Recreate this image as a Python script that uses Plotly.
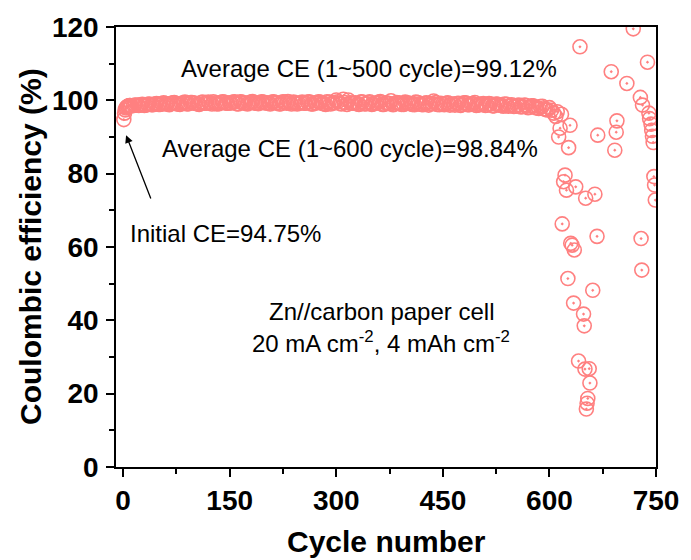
import plotly.graph_objects as go

# ---- data -------------------------------------------------------------
# first cycles (individual)
early_cycles = [1, 2, 3, 4, 5, 6, 7, 8, 9, 10]
early_ce = [94.75, 96.5, 97.4, 97.9, 98.1, 98.3, 98.4, 98.5, 98.6, 98.6]

# stable region, sampled every 5 cycles (15 ... 600)
stable_cycles_a = list(range(15, 601, 5))
stable_ce_a = [
    98.6, 98.7, 98.8, 98.6, 98.9, 98.8, 99.0, 98.9,
    99.0, 99.1, 98.8, 99.3, 99.1, 98.9, 99.3, 99.0, 99.4, 99.2,
    99.0, 99.4, 99.2, 99.5, 99.0, 99.3, 99.1, 99.6, 99.2, 99.3,
    99.5, 99.1, 99.6, 99.3, 99.0, 99.5, 99.3, 99.1, 99.6, 99.3,
    99.2, 99.5, 99.3, 99.0, 99.6, 99.2, 99.3, 99.5, 99.0, 99.3,
    99.2, 99.5, 99.0, 99.3, 99.6, 99.2, 98.9, 99.5, 99.3, 100.1,
    99.2, 100.3, 98.9, 99.3, 99.2, 99.0, 99.6, 99.0, 99.4, 98.9,
    99.2, 99.5, 98.9, 99.3, 99.1, 98.8, 99.4, 99.2, 98.9, 99.3,
    99.1, 98.8, 99.4, 98.9, 99.2, 98.7, 99.1, 99.4, 98.8, 99.0,
    99.2, 98.7, 99.0, 99.1, 98.6, 99.3, 98.8, 99.0, 99.4, 98.7,
    98.9, 98.6, 99.1, 98.5, 99.0, 98.7, 98.4, 98.9, 98.6, 98.3,
    98.6, 98.2, 98.7, 98.0, 98.5, 98.1, 97.8, 98.4, 97.5, 98.0,
]

# stable region, second sampling offset (12 ... 597)
stable_cycles_b = list(range(12, 598, 5))
stable_ce_b = [
    98.5, 98.7, 98.6, 98.9, 98.7, 99.0, 98.8, 99.1,
    98.9, 99.3, 99.0, 99.1, 99.4, 99.0, 99.2, 99.5, 99.1, 99.4,
    99.2, 98.9, 99.5, 99.2, 99.3, 99.6, 99.0, 99.4, 99.5, 99.2,
    99.3, 99.6, 99.0, 99.5, 99.2, 99.3, 99.7, 99.2, 99.3, 99.5,
    99.3, 99.0, 99.6, 99.3, 99.1, 99.5, 99.7, 99.0, 99.3, 99.2,
    99.5, 99.2, 99.6, 99.0, 99.3, 99.5, 99.1, 99.6, 99.0, 99.3,
    99.6, 99.0, 99.4, 100.1, 99.2, 99.3, 98.9, 99.5, 99.1, 99.6,
    99.0, 99.3, 99.7, 98.9, 99.2, 99.9, 99.0, 99.3, 98.9, 99.5,
    99.2, 98.9, 99.5, 99.0, 98.8, 99.3, 99.1, 99.8, 98.9, 99.2,
    98.8, 99.3, 99.0, 98.7, 99.2, 98.9, 99.3, 98.8, 99.1, 98.6,
    98.9, 99.1, 98.7, 99.0, 98.5, 98.9, 98.6, 99.0, 98.4, 98.8,
    98.4, 98.7, 98.3, 98.6, 98.1, 98.5, 97.9, 98.3, 97.7, 97.4,
]

# failure region (scattered)
late_cycles = [603, 606, 609, 611, 613, 615, 617, 618, 620, 622, 624, 626, 627,
               629, 630, 632, 634, 635, 637, 641, 643, 648, 649, 650, 651, 652,
               653, 654, 656, 657, 661, 664, 667, 668, 687, 692, 694, 695, 709,
               718, 728, 729, 730, 731, 738, 740, 741, 743, 744, 745, 746, 747,
               748, 749]
late_ce = [97.3, 96.5, 95.6, 96.9, 90.0, 92.4, 96.2, 66.3, 77.8, 79.6, 75.5, 51.4,
           87.1, 93.2, 61.0, 60.5, 44.7, 59.2, 76.4, 28.9, 114.6, 41.7, 38.5, 26.7,
           73.3, 15.8, 17.4, 18.7, 26.8, 22.9, 48.2, 74.4, 62.9, 90.5, 107.8, 86.4,
           91.3, 94.4, 104.6, 119.5, 100.8, 62.3, 53.7, 98.7, 110.4, 96.5, 95.0,
           93.5, 91.8, 90.2, 88.5, 79.2, 76.9, 72.8]

assert len(stable_cycles_a) == len(stable_ce_a)
assert len(stable_cycles_b) == len(stable_ce_b)
assert len(late_cycles) == len(late_ce)

pairs = sorted(zip(early_cycles + stable_cycles_a + stable_cycles_b + late_cycles,
                   early_ce + stable_ce_a + stable_ce_b + late_ce))
cycles = [p[0] for p in pairs]
ce = [p[1] for p in pairs]

x_ticks = [0, 150, 300, 450, 600, 750]
y_ticks = [0, 20, 40, 60, 80, 100, 120]

# ---- figure -----------------------------------------------------------
FONT = "Liberation Sans"
RED = "#FF8080"

fig = go.Figure()
fig.add_trace(go.Scatter(
    x=cycles, y=ce, mode="markers",
    marker=dict(symbol="circle-open-dot", size=14, color=RED,
                line=dict(width=1.6, color=RED)),
))

axis_common = dict(
    showgrid=False, zeroline=False, showline=True, linecolor="black",
    linewidth=1.5, mirror=True, ticks="outside", ticklen=8, tickwidth=1.5,
    tickcolor="black",
    tickfont=dict(family=FONT, size=28, color="black", weight="bold"),
)

fig.update_xaxes(range=[-10, 750], tickvals=x_ticks,
                 minor=dict(tickvals=[75, 225, 375, 525, 675], ticks="outside",
                            ticklen=5, tickwidth=1.5, tickcolor="black"),
                 ticklabelstandoff=0, **axis_common)
fig.update_yaxes(range=[0, 120], tickvals=y_ticks,
                 minor=dict(tickvals=[10, 30, 50, 70, 90, 110], ticks="outside",
                            ticklen=5, tickwidth=1.5, tickcolor="black"),
                 ticklabelstandoff=2, **axis_common)

txt = dict(family=FONT, size=24, color="black")
annotations = [
    dict(text="Average CE (1~500 cycle)=99.12%", x=78, y=108.6,
         xanchor="left", yanchor="middle", showarrow=False, font=txt),
    dict(text="Average CE (1~600 cycle)=98.84%", x=51.5, y=87.0,
         xanchor="left", yanchor="middle", showarrow=False, font=txt),
    dict(text="Initial CE=94.75%", x=6.5, y=63.6,
         xanchor="left", yanchor="middle", showarrow=False, font=txt),
    dict(text="Zn//carbon paper cell", x=364, y=42.5,
         xanchor="center", yanchor="middle", showarrow=False, font=txt),
    dict(text="20 mA cm<sup>-2</sup>, 4 mAh cm<sup>-2</sup>", x=363, y=34.2,
         xanchor="center", yanchor="middle", showarrow=False, font=txt),
    dict(text="", x=4.2, y=90.5, ax=39.8, ay=72.8, axref="x", ayref="y",
         showarrow=True, arrowhead=2, arrowsize=1.2, arrowwidth=1.3,
         arrowcolor="black"),
    dict(text="Cycle number", xref="paper", yref="paper", x=0.5, y=0,
         yshift=-74, xanchor="center", yanchor="middle", showarrow=False,
         font=dict(family=FONT, size=30, color="black", weight="bold")),
    dict(text="Coulombic efficiency (%)", xref="paper", yref="paper", x=0,
         y=0.5, xshift=-86, textangle=-90, xanchor="center",
         yanchor="middle", showarrow=False,
         font=dict(family=FONT, size=30, color="black", weight="bold")),
]

fig.update_layout(
    width=691, height=560,
    margin=dict(l=116, r=30, t=27, b=93),
    plot_bgcolor="white", paper_bgcolor="white",
    showlegend=False, annotations=annotations,
)

fig.write_html("out.html")
